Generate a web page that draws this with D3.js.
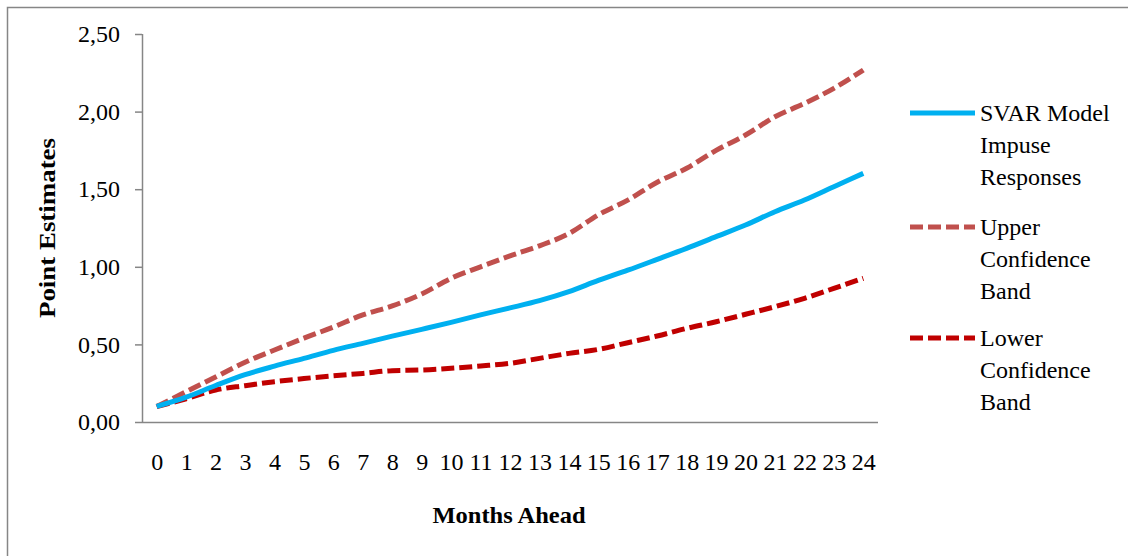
<!DOCTYPE html>
<html>
<head>
<meta charset="utf-8">
<script src="https://cdn.jsdelivr.net/npm/d3@7/dist/d3.min.js"></script>
<style>
  html, body { margin: 0; padding: 0; background: #fff; }
  svg { display: block; }
  text { font-family: "Liberation Serif", "Times New Roman", serif; fill: #000; }
</style>
</head>
<body>
<svg id="chart" width="1128" height="556"></svg>
<script>
// Horizon (months ahead) and tick labels
const months = d3.range(0, 25);
const yTicks = [0, 0.5, 1.0, 1.5, 2.0, 2.5];

// Impulse response point estimates and confidence bands
const svarResponse = [0.10, 0.16, 0.235, 0.305, 0.36, 0.41, 0.462, 0.507, 0.553, 0.597, 0.642, 0.69, 0.735,
  0.782, 0.84, 0.912, 0.978, 1.048, 1.119, 1.194, 1.269, 1.355, 1.43, 1.516, 1.602];
const upperBand = [0.10, 0.195, 0.29, 0.385, 0.464, 0.54, 0.612, 0.69, 0.748, 0.825, 0.926, 1.0, 1.07,
  1.135, 1.214, 1.335, 1.43, 1.545, 1.635, 1.75, 1.849, 1.967, 2.053, 2.15, 2.268];
const lowerBand = [0.10, 0.15, 0.206, 0.234, 0.26, 0.28, 0.298, 0.313, 0.331, 0.335, 0.346, 0.361, 0.378,
  0.41, 0.442, 0.468, 0.511, 0.554, 0.603, 0.646, 0.694, 0.743, 0.797, 0.861, 0.926];

const seriesNames = [["SVAR Model", "Impuse", "Responses"], ["Upper", "Confidence", "Band"], ["Lower", "Confidence", "Band"]];

const svg = d3.select("#chart");
const axisColor = "#868686";

// outer chart frame
svg.append("rect")
  .attr("x", 7.5).attr("y", 7.5)
  .attr("width", 1300).attr("height", 700)
  .attr("fill", "none").attr("stroke", axisColor).attr("stroke-width", 1.5);

const plot = { left: 142, right: 878, top: 34, bottom: 422 };

const x = d3.scalePoint().domain(months).range([plot.left, plot.right]).padding(0.5);
const y = d3.scaleLinear().domain([0, 2.5]).range([plot.bottom, plot.top]);

const fmt = v => d3.format(".2f")(v).replace(".", ",");

// y axis
const yAxis = svg.append("g")
  .attr("transform", `translate(${plot.left},0)`)
  .call(d3.axisLeft(y).tickValues(yTicks).tickSize(7).tickPadding(15).tickFormat(fmt));
yAxis.select(".domain").attr("stroke", axisColor).attr("stroke-width", 1.5).attr("d", `M0.5,${plot.top}V${plot.bottom}`);
yAxis.selectAll(".tick line").attr("stroke", axisColor).attr("stroke-width", 1.5);
yAxis.selectAll(".tick text")
  .attr("font-size", 24).attr("letter-spacing", 0)
  .attr("font-family", "Liberation Serif").attr("fill", "#000");

// x axis
const xAxis = svg.append("g")
  .attr("transform", `translate(0,${plot.bottom})`)
  .call(d3.axisBottom(x).tickSize(0).tickPadding(31));
xAxis.select(".domain").attr("stroke", axisColor).attr("stroke-width", 1.5).attr("d", `M${plot.left},0.5H${plot.right}`);
xAxis.selectAll(".tick text")
  .attr("font-size", 24).attr("letter-spacing", 0)
  .attr("font-family", "Liberation Serif").attr("fill", "#000");

// axis titles
svg.append("text")
  .attr("x", 509).attr("y", 523)
  .attr("text-anchor", "middle")
  .attr("font-size", 23).attr("font-weight", "bold")
  .attr("textLength", 153).attr("lengthAdjust", "spacingAndGlyphs")
  .text("Months Ahead");

svg.append("text")
  .attr("transform", "translate(55,228) rotate(-90)")
  .attr("text-anchor", "middle")
  .attr("font-size", 23).attr("font-weight", "bold")
  .attr("textLength", 180).attr("lengthAdjust", "spacingAndGlyphs")
  .text("Point Estimates");

// lines
const line = d3.line()
  .x((d, i) => x(months[i]))
  .y(d => y(d))
  .curve(d3.curveMonotoneX);

const styles = [
  { color: "#00B0F0", dash: null },
  { color: "#C0504D", dash: "13,5" },
  { color: "#C00000", dash: "13,5" }
];
const allSeries = [svarResponse, upperBand, lowerBand];

// draw bands first so the point estimate sits on top at the origin
[2, 1, 0].forEach(k => {
  svg.append("path")
    .datum(allSeries[k])
    .attr("d", line)
    .attr("fill", "none")
    .attr("stroke", styles[k].color)
    .attr("stroke-width", 5)
    .attr("stroke-dasharray", styles[k].dash);
});

// legend
const legendY = [113, 227, 338];
seriesNames.forEach((lines, k) => {
  const g = svg.append("g").attr("transform", `translate(0,${legendY[k]})`);
  g.append("line")
    .attr("x1", 910).attr("x2", 975).attr("y1", 0).attr("y2", 0)
    .attr("stroke", styles[k].color).attr("stroke-width", 5)
    .attr("stroke-dasharray", styles[k].dash ? "13,5" : null);
  lines.forEach((t, j) => {
    g.append("text")
      .attr("x", 980).attr("y", 8 + j * 32)
      .attr("font-size", 24).attr("letter-spacing", 0)
      .text(t);
  });
});
</script>
</body>
</html>
